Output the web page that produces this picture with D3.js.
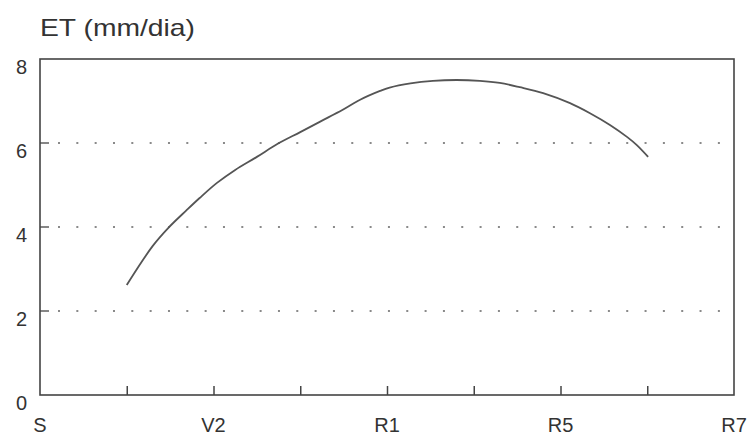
<!DOCTYPE html>
<html>
<head>
<meta charset="utf-8">
<script src="https://cdn.jsdelivr.net/npm/d3@7"></script>
<style>
  body { margin: 0; background: #fff; }
  text { font-family: 'Liberation Sans', Arial, sans-serif; fill: #333; }
</style>
</head>
<body>
<div id="chart"></div>
<script>
const w = 752
const h = 435

// growth stage position (0 = S ... 8 = R7) and ET in mm/dia
const stage = [1.00, 1.30, 1.48, 1.69, 1.84, 2.04, 2.25, 2.50, 2.74, 3.00, 3.23, 3.49, 3.69, 3.92, 4.03, 4.27, 4.53, 4.80, 5.07, 5.30, 5.53, 5.80, 6.11, 6.34, 6.57, 6.77, 6.88, 7.01]
const et = [2.62, 3.55, 3.98, 4.40, 4.69, 5.05, 5.36, 5.67, 5.98, 6.26, 6.51, 6.79, 7.03, 7.24, 7.32, 7.42, 7.48, 7.50, 7.48, 7.43, 7.33, 7.19, 6.95, 6.71, 6.43, 6.14, 5.95, 5.67]

const xTicks = [0, 1, 2, 3, 4, 5, 6, 7, 8]
const xLabels = ['S', '', 'V2', '', 'R1', '', 'R5', '', 'R7']
const yTicks = [0, 2, 4, 6, 8]
const gridTicks = [2, 4, 6]

const plotL = 40, plotR = 734, plotT = 59, plotB = 395

const svg = d3.select('#chart')
    .append('svg')
    .attr('width', w)
    .attr('height', h)

const xScale = d3.scaleLinear()
    .domain([0, 8])
    .range([plotL, plotR])

const yScale = d3.scaleLinear()
    .domain([0, 8])
    .range([plotB, plotT])

// dotted grid
svg.selectAll('.grid')
    .data(gridTicks)
    .enter()
    .append('line')
    .attr('class', 'grid')
    .attr('x1', plotL + 18)
    .attr('x2', plotR - 2)
    .attr('y1', d => yScale(d))
    .attr('y2', d => yScale(d))
    .attr('stroke', '#8a8a8a')
    .attr('stroke-width', 2)
    .attr('stroke-dasharray', '2,16.33')

// short inward ticks on y axis
svg.selectAll('.ytick')
    .data(gridTicks)
    .enter()
    .append('line')
    .attr('class', 'ytick')
    .attr('x1', plotL)
    .attr('x2', plotL + 9)
    .attr('y1', d => yScale(d))
    .attr('y2', d => yScale(d))
    .attr('stroke', '#444')
    .attr('stroke-width', 1.3)

// frame
svg.append('rect')
    .attr('x', plotL)
    .attr('y', plotT)
    .attr('width', plotR - plotL)
    .attr('height', plotB - plotT)
    .attr('fill', 'none')
    .attr('stroke', '#444')
    .attr('stroke-width', 1.6)

// x axis ticks pointing up
const xAxis = d3.axisTop(xScale)
    .tickValues(xTicks.slice(1, -1))
    .tickSize(9)
    .tickFormat('')

svg.append('g')
    .attr('transform', 'translate(0,' + plotB + ')')
    .call(xAxis)
    .call(g => g.select('.domain').remove())
    .call(g => g.selectAll('line').attr('stroke', '#444').attr('stroke-width', 1.5))

// x labels
svg.selectAll('.xlab')
    .data(xTicks)
    .enter()
    .append('text')
    .attr('class', 'xlab')
    .attr('x', d => xScale(d))
    .attr('y', 432)
    .attr('text-anchor', 'middle')
    .style('font-size', '20px')
    .text((d, i) => xLabels[i])

// y labels, hanging below the value
svg.selectAll('.ylab')
    .data(yTicks)
    .enter()
    .append('text')
    .attr('class', 'ylab')
    .attr('x', 27)
    .attr('y', d => yScale(d) + 15)
    .attr('text-anchor', 'end')
    .style('font-size', '20px')
    .text(d => d)

// axis title
svg.append('text')
    .attr('x', 40)
    .attr('y', 36)
    .attr('textLength', 155)
    .attr('lengthAdjust', 'spacingAndGlyphs')
    .style('font-size', '24px')
    .text('ET (mm/dia)')

// ET curve
const line = d3.line()
    .x(d => xScale(d[0]))
    .y(d => yScale(d[1]))
    .curve(d3.curveCatmullRom.alpha(0.5))

svg.append('path')
    .datum(stage.map((s, i) => [s, et[i]]))
    .attr('d', line)
    .attr('fill', 'none')
    .attr('stroke', '#555')
    .attr('stroke-width', 1.8)
</script>
</body>
</html>
